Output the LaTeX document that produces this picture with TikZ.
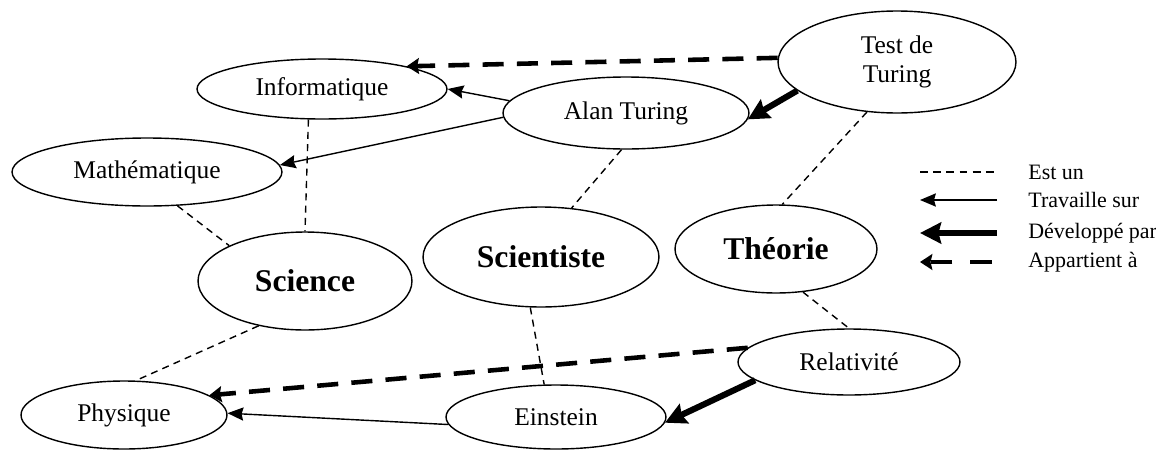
\documentclass[tikz,border=0pt]{standalone}
\usepackage{fontspec}
\setmainfont{Liberation Serif}
\usetikzlibrary{shapes.geometric,arrows.meta}

\begin{document}
\begin{tikzpicture}[x=0.02cm, y=-0.02cm,
    concept/.style={ellipse, draw, line width=0.8pt, inner sep=0pt, align=center, font=\fontsize{14.5}{16.5}\selectfont},
    keyconcept/.style={concept, font=\fontsize{18}{20}\selectfont\bfseries},
    isa/.style={line width=0.8pt, dash pattern=on 4pt off 3pt},
    works/.style={line width=0.8pt, -{Stealth[length=9pt, width=7.5pt, inset=1pt]}},
    devby/.style={line width=3.5pt, -{Stealth[length=12pt, width=12pt, inset=1.5pt]}},
    belongs/.style={line width=2.6pt, dash pattern=on 12pt off 7.5pt, -{Stealth[length=7pt, width=9pt, inset=1pt]}},
    legendtext/.style={anchor=west, inner sep=0pt, font=\fontsize{12.5}{14}\selectfont}]
    \useasboundingbox (0,0) rectangle (1156,450);

    % Concepts
    \node[concept, minimum width=5.0cm, minimum height=1.2cm] (inf) at (322,89) {Informatique};
    \node[concept, minimum width=4.76cm, minimum height=2.04cm] (tdt) at (897,62) {Test de\\Turing};
    \node[concept, minimum width=4.92cm, minimum height=1.44cm] (alan) at (626,113) {Alan Turing};
    \node[concept, minimum width=5.4cm, minimum height=1.36cm] (math) at (147,172) {Mathématique};
    \node[keyconcept, minimum width=4.28cm, minimum height=1.96cm] (sci) at (305,281) {Science};
    \node[keyconcept, minimum width=4.72cm, minimum height=2.0cm] (scist) at (541,257) {Scientiste};
    \node[keyconcept, minimum width=4.04cm, minimum height=1.76cm] (theo) at (776,249) {Théorie};
    \node[concept, minimum width=4.44cm, minimum height=1.32cm] (rel) at (849,362) {Relativité};
    \node[concept, minimum width=4.12cm, minimum height=1.36cm] (phys) at (124,415) {Physique};
    \node[concept, minimum width=4.4cm, minimum height=1.28cm] (ein) at (556,417) {Einstein};

    % Est un
    \draw[isa] (inf.246) -- (sci.90);
    \draw[isa] (math.-48) -- (sci.155);
    \draw[isa] (alan.263) -- (scist.58);
    \draw[isa] (tdt.239) -- (theo.82);
    \draw[isa] (theo.-58) -- (rel.90);
    \draw[isa] (sci.224) -- (phys.71);
    \draw[isa] (scist.258) -- (ein.110);

    % Travaille sur
    \draw[works] (alan.174) -- (inf.0);
    \draw[works] (alan.182) -- (math.3);
    \draw[works] (ein.184) -- (phys.1);

    % Developpe par
    \draw[devby] (tdt.196) -- (alan.-3);
    \draw[devby] (rel.191) -- (ein.-3);

    % Appartient a
    \draw[belongs] (tdt.178) -- (inf.15);
    \draw[belongs] (rel.172) -- (phys.13);

    % Legend
    \coordinate (kIsaA) at (920,172);  \coordinate (kIsaB) at (997,172);
    \coordinate (kWorkA) at (920,200); \coordinate (kWorkB) at (997,200);
    \coordinate (kDevA) at (920,233);  \coordinate (kDevB) at (997,233);
    \coordinate (kBelA) at (920,262);  \coordinate (kBelB) at (992,262);
    \draw[isa, dash pattern=on 4.5pt off 3pt] (kIsaA) -- (kIsaB);
    \draw[works] (kWorkB) -- (kWorkA);
    \draw[devby] (kDevB) -- (kDevA);
    \draw[belongs, dash pattern=on 12.5pt off 10pt] (kBelB) -- (kBelA);
    \node[legendtext] (kIsa) at (1028,172) {Est un};
    \node[legendtext] (kWork) at (1028,200) {Travaille sur};
    \node[legendtext] (kDev) at (1028,233) {Développé par};
    \node[legendtext] (kBel) at (1028,262) {Appartient à};
\end{tikzpicture}
\end{document}
